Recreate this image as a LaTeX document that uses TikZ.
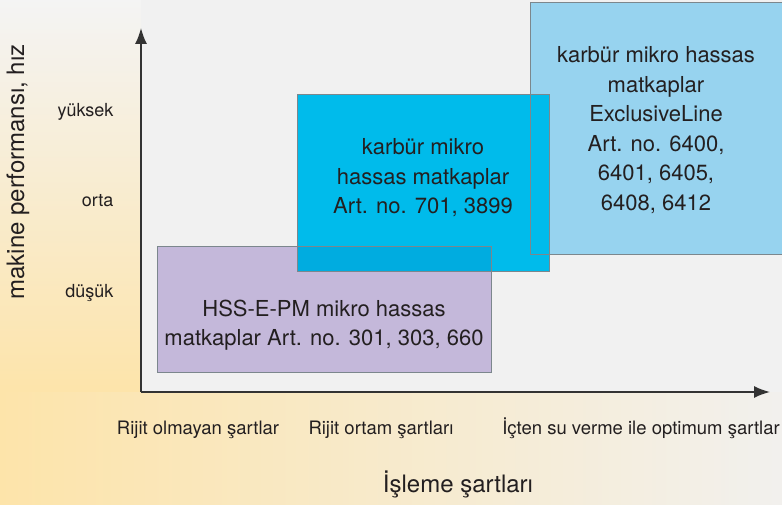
\documentclass[tikz,border=0pt]{standalone}
\usepackage{fontspec}
\setmainfont{TeX Gyre Heros}
\usetikzlibrary{arrows.meta}
\definecolor{hsspurple}{HTML}{C4B8DA}
\definecolor{karburcyan}{HTML}{00BBEB}
\definecolor{exclusiveblue}{HTML}{97D3EF}
\definecolor{overlapcyan}{HTML}{00ACE0}
\definecolor{plotgrey}{HTML}{F1F1F1}
\definecolor{sandlight}{HTML}{FDE4AA}
\definecolor{textdark}{HTML}{231F20}
\definecolor{edgegrey}{HTML}{7C878D}
\begin{document}
\begin{tikzpicture}[x=1pt,y=-1pt,
  boxfill/.style={fill=#1,draw=none,inner sep=0pt,anchor=north west},
  boxedge/.style={draw=edgegrey,line width=0.9pt},
  boxtext/.style={align=center,text=textdark,font=\fontsize{22}{29.5}\selectfont},
  level/.style={anchor=base east,text=textdark,font=\fontsize{18}{20}\selectfont},
  condition/.style={anchor=base,text=textdark,font=\fontsize{18.5}{20}\selectfont},
  axistitle/.style={text=textdark,font=\fontsize{24}{26}\selectfont},
  axisline/.style={draw=black!80,line width=1.6pt,-{Latex[length=16pt,width=12pt]}}]
\useasboundingbox (0,0) rectangle (782,505);
% background
\fill[plotgrey] (0,0) rectangle (782,505);
\shade[top color=plotgrey!80!white,middle color=sandlight!60!white,bottom color=sandlight] (0,0) rectangle (141,392);
\shade[left color=sandlight,middle color=sandlight!80!plotgrey,right color=plotgrey!95!sandlight] (0,392) rectangle (782,505);
% boxes
\node[boxfill=exclusiveblue,minimum width=256,minimum height=252] (exclusive) at (530,2) {};
\node[boxfill=hsspurple,minimum width=334,minimum height=126] (hss) at (157,246) {};
\node[boxfill=karburcyan,minimum width=252,minimum height=177] (karbur) at (297,94) {};
\fill[overlapcyan] (karbur.west |- hss.north) rectangle (hss.east |- karbur.south);
\draw[boxedge] (exclusive.north west) rectangle (exclusive.south east);
\draw[boxedge] (hss.north west) rectangle (hss.south east);
\draw[boxedge] (karbur.north west) rectangle (karbur.south east);
\node[boxtext] (exclusivetext) at (656,130) {karbür mikro hassas\\matkaplar\\ExclusiveLine\\Art. no. 6400,\\6401, 6405,\\6408, 6412};
\node[boxtext] (karburtext) at (423,178) {karbür mikro\\hassas matkaplar\\Art. no. 701, 3899};
\node[boxtext] (hsstext) at (324,325) {HSS-E-PM mikro hassas\\matkaplar Art. no. 301, 303, 660};
% axes
\coordinate (origin) at (141,392);
\coordinate (ytip) at (141,28);
\coordinate (xtip) at (770,392);
\draw[axisline] (origin) -- (ytip);
\draw[axisline] (origin) -- (xtip);
\node[level] (yuksek) at (117,117) {yüksek};
\node[level] (orta) at (117,207) {orta};
\node[level] (dusuk) at (117,297) {düşük};
\node[condition] (rijitolmayan) at (198,434) {Rijit olmayan şartlar};
\node[condition] (rijitortam) at (381,434) {Rijit ortam şartları};
\node[condition] (optimum) at (641,434) {İçten su verme ile optimum şartlar};
\node[axistitle,anchor=base] (isleme) at (458,492) {İşleme şartları};
\node[axistitle,rotate=90] (performans) at (18,172) {makine performansı, hız};
\end{tikzpicture}
\end{document}
